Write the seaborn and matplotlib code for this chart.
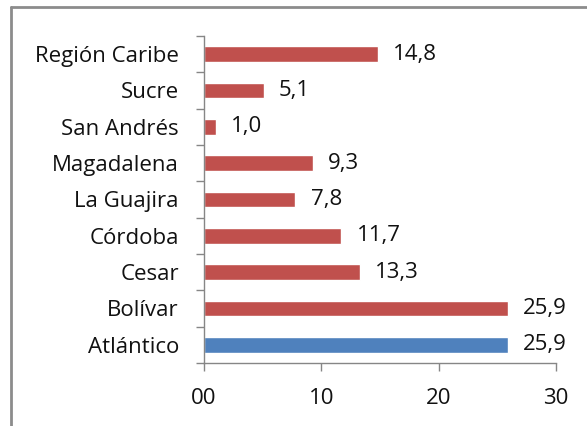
import matplotlib
matplotlib.use("Agg")
import matplotlib.pyplot as plt
import seaborn as sns
import pandas as pd
from matplotlib.lines import Line2D
from matplotlib.ticker import FixedLocator, FuncFormatter

# data, top to bottom as drawn
regions = ["Región Caribe", "Sucre", "San Andrés", "Magadalena", "La Guajira",
           "Córdoba", "Cesar", "Bolívar", "Atlántico"]
values = [14.8, 5.1, 1.0, 9.3, 7.8, 11.7, 13.3, 25.9, 25.9]
x_ticks = [0, 10, 20, 30]

RED = "#C0504D"
BLUE = "#4F81BD"
GRID = "#868686"
FS = 16

sns.set_theme(style="white")
plt.rcParams["font.family"] = ["Open Sans", "DejaVu Sans"]

df = pd.DataFrame({"region": regions, "value": values})
colors = {r: (BLUE if r == "Atlántico" else RED) for r in regions}

fig = plt.figure(figsize=(5.87, 4.26), dpi=100)
ax = fig.add_axes([0.3475, 0.148, 0.947 - 0.3475, 0.9155 - 0.148])

sns.barplot(data=df, y="region", x="value", hue="region", palette=colors,
            orient="h", width=0.43, legend=False, ax=ax, saturation=1)

for cont in ax.containers:
    ax.bar_label(cont, labels=[f"{v:.1f}".replace(".", ",") for v in cont.datavalues],
                 padding=11, fontsize=FS, color="#111111")

ax.set_xlim(0, 30)
ax.set_ylim(len(regions) - 0.5, -0.5)
ax.set_xticks(x_ticks)
ax.xaxis.set_major_formatter(FuncFormatter(lambda v, p: f"{v:02.0f}"))
ax.set_xlabel("")
ax.set_ylabel("")

# category boundaries as tick marks
ax.yaxis.set_minor_locator(FixedLocator([i - 0.5 for i in range(len(regions) + 1)]))
ax.tick_params(axis="y", which="major", length=0, pad=18, labelsize=FS, labelcolor="#111111")
ax.tick_params(axis="y", which="minor", left=True, length=6, width=1, color=GRID)
ax.tick_params(axis="x", which="major", bottom=True, length=6, width=1, color=GRID,
               pad=12, labelsize=FS, labelcolor="#111111")

for s in ["top", "right"]:
    ax.spines[s].set_visible(False)
for s in ["left", "bottom"]:
    ax.spines[s].set_color(GRID)
    ax.spines[s].set_linewidth(1)

# outer chart frame (left and top edges visible)
fig.add_artist(Line2D([11 / 587, 11 / 587], [0, 1 - 7 / 426], color="#8c8c8c", lw=2,
                      transform=fig.transFigure))
fig.add_artist(Line2D([11 / 587, 1], [1 - 7 / 426, 1 - 7 / 426], color="#8c8c8c", lw=2,
                      transform=fig.transFigure))

fig.savefig("out.png", dpi=100)
